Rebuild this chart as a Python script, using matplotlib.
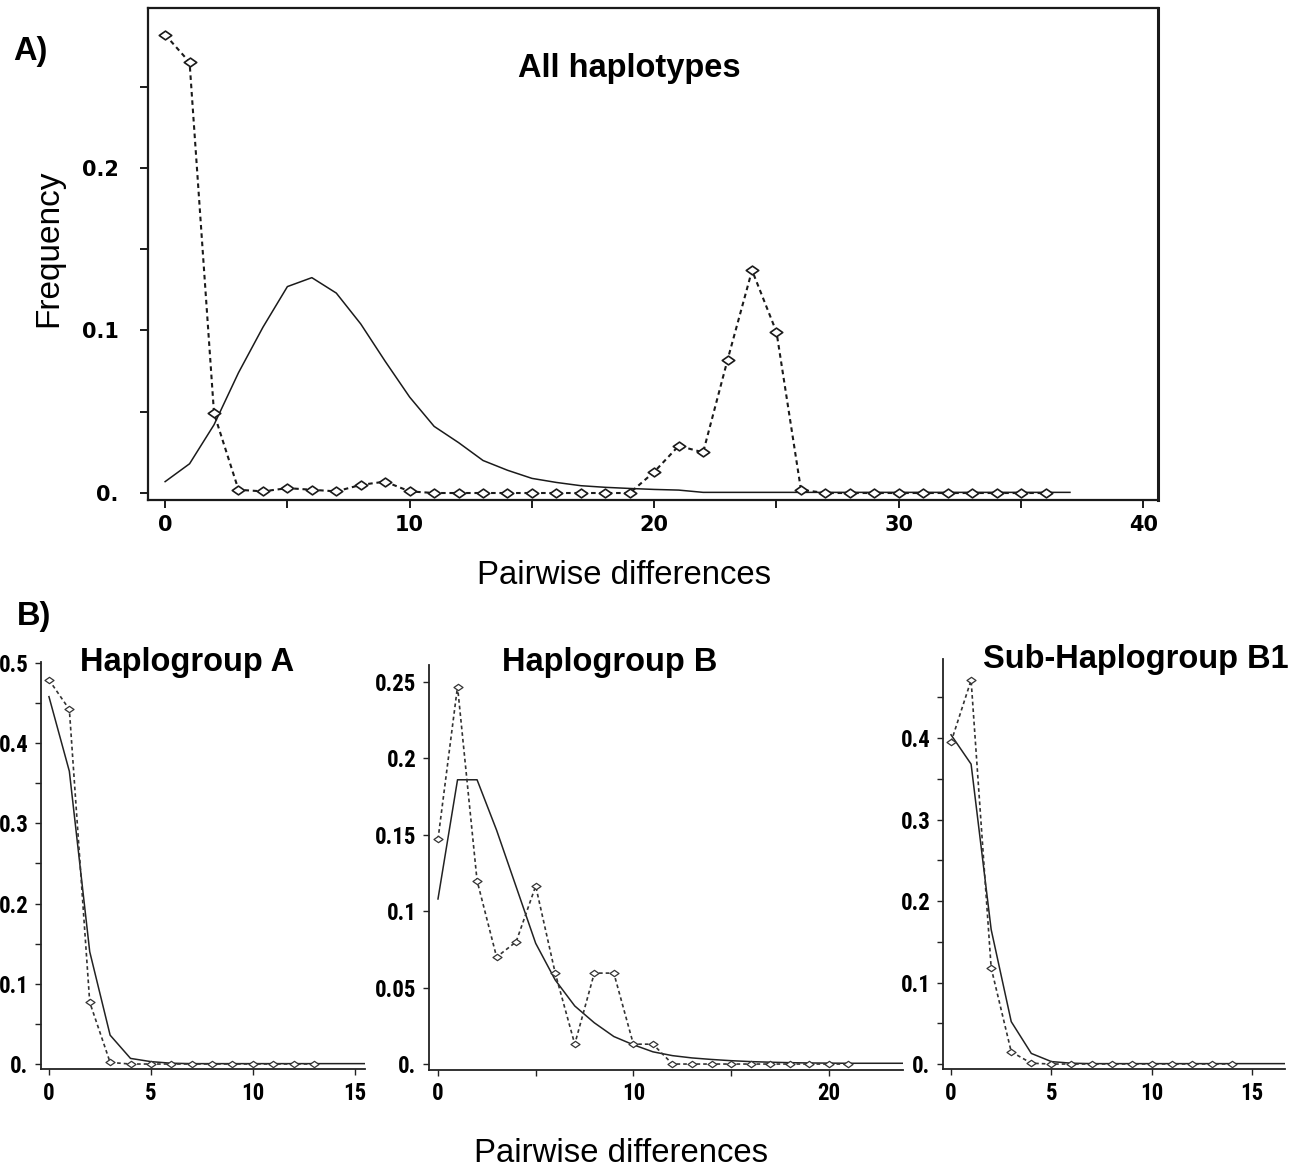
import matplotlib.pyplot as plt
import numpy as np
from matplotlib.path import Path
from matplotlib.ticker import FixedLocator, FuncFormatter
from matplotlib import font_manager

# ---- data ----------------------------------------------------------------
# A) all haplotypes
all_x_obs = list(range(0, 37))
all_obs = [0.282, 0.265, 0.049, 0.002, 0.001, 0.003, 0.002, 0.001, 0.005, 0.007,
           0.001, 0.0, 0.0, 0.0, 0.0, 0.0, 0.0, 0.0, 0.0, 0.0,
           0.013, 0.029, 0.025, 0.082, 0.137, 0.099, 0.002, 0.0, 0.0, 0.0,
           0.0, 0.0, 0.0, 0.0, 0.0, 0.0, 0.0]
all_x_exp = list(range(0, 38))
all_exp = [0.007, 0.018, 0.042, 0.074, 0.102, 0.127, 0.1325, 0.123, 0.104, 0.081,
           0.059, 0.041, 0.031, 0.020, 0.014, 0.009, 0.0065, 0.0045, 0.0035, 0.0028,
           0.0022, 0.0018, 0.0004, 0.0004, 0.0004, 0.0004, 0.0004, 0.0004, 0.0004, 0.0004,
           0.0004, 0.0004, 0.0004, 0.0004, 0.0004, 0.0004, 0.0004, 0.0004]

# B) haplogroup A
hapA_x_obs = list(range(0, 14))
hapA_obs = [0.479, 0.442, 0.077, 0.002, 0.0, 0.0, 0.0, 0.0, 0.0, 0.0, 0.0, 0.0, 0.0, 0.0]
hapA_x_exp = list(range(0, 17))
hapA_exp = [0.458, 0.365, 0.14, 0.036, 0.007, 0.003, 0.001, 0.0005, 0.0005, 0.0005,
            0.0005, 0.0005, 0.0005, 0.0005, 0.0005, 0.0005, 0.0005]

# B) haplogroup B
hapB_x_obs = list(range(0, 22))
hapB_obs = [0.147, 0.247, 0.120, 0.070, 0.080, 0.1165, 0.0595, 0.013, 0.0595, 0.0595,
            0.013, 0.013, 0.0, 0.0, 0.0, 0.0, 0.0, 0.0, 0.0, 0.0, 0.0, 0.0]
hapB_x_exp = list(range(0, 25))
hapB_exp = [0.108, 0.186, 0.186, 0.153, 0.116, 0.079, 0.055, 0.038, 0.027, 0.018,
            0.0126, 0.008, 0.0055, 0.004, 0.003, 0.0022, 0.0016, 0.0012, 0.0009, 0.0007,
            0.0006, 0.0005, 0.0005, 0.0005, 0.0005]

# B) sub-haplogroup B1
hapB1_x_obs = list(range(0, 15))
hapB1_obs = [0.395, 0.471, 0.118, 0.015, 0.001, 0.0, 0.0, 0.0, 0.0, 0.0, 0.0, 0.0, 0.0, 0.0, 0.0]
hapB1_x_exp = list(range(0, 18))
hapB1_exp = [0.404, 0.368, 0.165, 0.052, 0.013, 0.003, 0.001, 0.0005, 0.0005, 0.0005,
             0.0005, 0.0005, 0.0005, 0.0005, 0.0005, 0.0005, 0.0005, 0.0005]

W, H = 1302, 1167
INK = "#1a1a1a"
TITLE_FONT = ["Liberation Sans", "DejaVu Sans"]

# narrow bold face for the small panels, if one is installed
installed = {f.name for f in font_manager.fontManager.ttflist}
narrow = [n for n in ("Liberation Sans Narrow", "DejaVu Sans Condensed", "Roboto Condensed")
          if n in installed]
NARROW_FONT = narrow[:1] + ["DejaVu Sans"]
NARROW_SIZE = 16.5 if narrow else 12.5

# a wide, flat diamond like the one in the original program output
diamond = Path([(-1, 0), (0, 0.7), (1, 0), (0, -0.7), (-1, 0)],
               [Path.MOVETO, Path.LINETO, Path.LINETO, Path.LINETO, Path.CLOSEPOLY])


def box(left, top, right, bottom):
    return [left / W, 1 - bottom / H, (right - left) / W, (bottom - top) / H]


def zero_dot(v, _pos):
    return "0." if abs(v) < 1e-9 else f"{v:g}"


fig = plt.figure(figsize=(W / 100, H / 100), dpi=100)

# ---- panel A ---------------------------------------------------------------
ax = fig.add_axes(box(148, 8, 1158, 500))
ax.plot(all_x_exp, all_exp, color=INK, lw=1.1, solid_joinstyle="round")
ax.plot(all_x_obs, all_obs, color=INK, lw=1.5, ls=(0, (2.2, 1.8)),
        marker=diamond, ms=9, mfc="white", mec=INK, mew=1.2)
ax.set_xlim(-0.7, 40.6)
ax.set_ylim(-0.0043, 0.2984)
ax.xaxis.set_major_locator(FixedLocator([0, 10, 20, 30, 40]))
ax.xaxis.set_minor_locator(FixedLocator([5, 15, 25, 35]))
ax.yaxis.set_major_locator(FixedLocator([0, 0.1, 0.2]))
ax.yaxis.set_minor_locator(FixedLocator([0.05, 0.15, 0.25]))
ax.yaxis.set_major_formatter(FuncFormatter(zero_dot))
for s in ax.spines.values():
    s.set_linewidth(1.6)
    s.set_color(INK)
ax.spines["right"].set_linewidth(2.2)
ax.tick_params(which="both", direction="out", length=6, width=1.4, color=INK)
ax.tick_params(axis="y", which="major", pad=15)
ax.tick_params(axis="x", which="major", pad=5)
for lab in ax.get_xticklabels() + ax.get_yticklabels():
    lab.set_fontfamily("DejaVu Sans")
    lab.set_fontweight("bold")
    lab.set_fontsize(15)

fig.text(13 / W, 1 - 60 / H, "A)", family=TITLE_FONT, weight="bold", fontsize=23.5,
         ha="left", va="baseline")
fig.text(629.5 / W, 1 - 77 / H, "All haplotypes", family=TITLE_FONT, weight="bold",
         fontsize=23.5, ha="center", va="baseline")
fig.text(48.5 / W, 1 - 248 / H, "Frequency", family=TITLE_FONT, fontsize=24,
         rotation=90, ha="center", va="center")
fig.text(624.5 / W, 1 - 584 / H, "Pairwise differences", family=TITLE_FONT,
         fontsize=23.7, ha="center", va="baseline")

# ---- panel B ---------------------------------------------------------------
fig.text(17 / W, 1 - 625 / H, "B)", family=TITLE_FONT, weight="bold", fontsize=23.5,
         ha="left", va="baseline")

small_panels = [
    (box(41, 662, 365, 1069), hapA_x_exp, hapA_exp, hapA_x_obs, hapA_obs,
     (-0.39, 15.5), (-0.0062, 0.5012), [0, 5, 10, 15], [],
     [0, 0.1, 0.2, 0.3, 0.4, 0.5], [0.05, 0.15, 0.25, 0.35, 0.45],
     "Haplogroup A", 187.5, 671),
    (box(429, 665, 903, 1070), hapB_x_exp, hapB_exp, hapB_x_obs, hapB_obs,
     (-0.46, 23.8), (-0.0039, 0.2611), [0, 10, 20], [5, 15],
     [0, 0.05, 0.1, 0.15, 0.2, 0.25], [],
     "Haplogroup B", 610, 671),
    (box(943, 659, 1285, 1069), hapB1_x_exp, hapB1_exp, hapB1_x_obs, hapB1_obs,
     (-0.4, 16.64), (-0.0061, 0.497), [0, 5, 10, 15], [],
     [0, 0.1, 0.2, 0.3, 0.4], [0.05, 0.15, 0.25, 0.35, 0.45],
     "Sub-Haplogroup B1", 1135.5, 668),
]

for (rect, xe, ye, xo, yo, xlim, ylim, xmaj, xmin, ymaj, ymin,
     title, tx, ty) in small_panels:
    bx = fig.add_axes(rect)
    bx.plot(xe, ye, color="#222222", lw=1.1)
    bx.plot(xo, yo, color="#333333", lw=1.2, ls=(0, (2.2, 1.8)),
            marker=diamond, ms=6.5, mfc="white", mec="#333333", mew=0.9)
    bx.set_xlim(*xlim)
    bx.set_ylim(*ylim)
    bx.xaxis.set_major_locator(FixedLocator(xmaj))
    bx.xaxis.set_minor_locator(FixedLocator(xmin))
    bx.yaxis.set_major_locator(FixedLocator(ymaj))
    bx.yaxis.set_minor_locator(FixedLocator(ymin))
    bx.yaxis.set_major_formatter(FuncFormatter(zero_dot))
    bx.spines["top"].set_visible(False)
    bx.spines["right"].set_visible(False)
    for side in ("left", "bottom"):
        bx.spines[side].set_linewidth(1.3)
        bx.spines[side].set_color("#222222")
    bx.tick_params(which="both", direction="out", length=4, width=1.0, color="#222222")
    bx.tick_params(axis="y", which="major", pad=5)
    bx.tick_params(axis="x", which="major", pad=5)
    for lab in bx.get_xticklabels() + bx.get_yticklabels():
        lab.set_fontfamily(NARROW_FONT)
        lab.set_fontweight("bold")
        lab.set_fontsize(NARROW_SIZE)
    fig.text(tx / W, 1 - ty / H, title, family=TITLE_FONT, weight="bold",
             fontsize=23.5, ha="center", va="baseline")

fig.text(621.5 / W, 1 - 1162 / H, "Pairwise differences", family=TITLE_FONT,
         fontsize=23.7, ha="center", va="baseline")

fig.savefig("out.png", dpi=100, facecolor="white")
